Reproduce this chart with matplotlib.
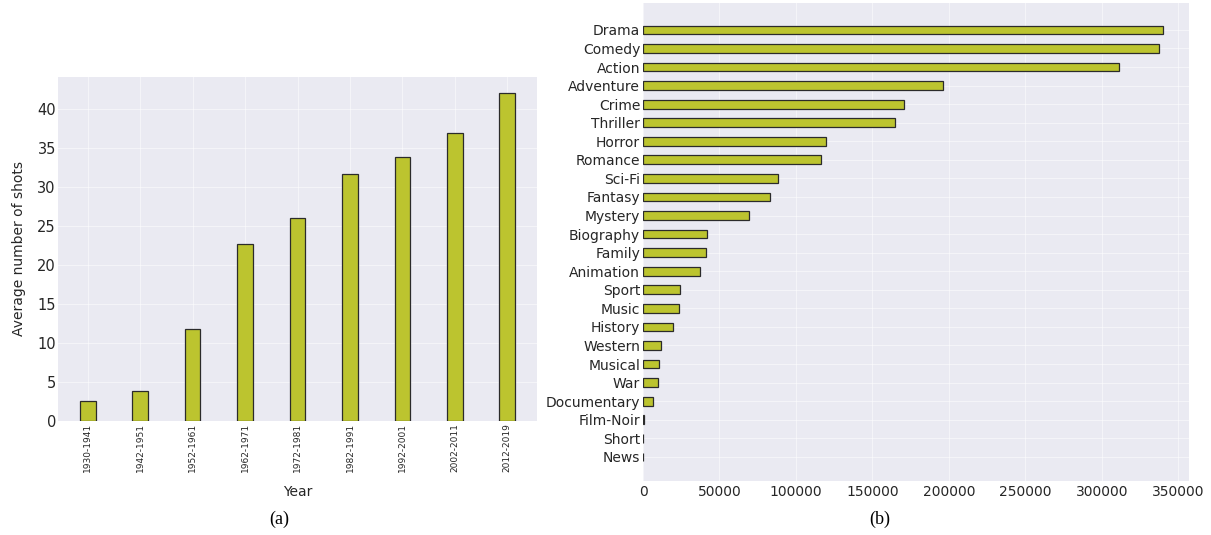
import matplotlib
matplotlib.use("Agg")
import matplotlib.pyplot as plt
import numpy as np

periods = ["1930-1941", "1942-1951", "1952-1961", "1962-1971", "1972-1981",
           "1982-1991", "1992-2001", "2002-2011", "2012-2019"]
avg_shots = [2.6, 3.85, 11.85, 22.7, 26.0, 31.7, 33.9, 36.9, 42.0]

genres = ["Drama", "Comedy", "Action", "Adventure", "Crime", "Thriller", "Horror",
          "Romance", "Sci-Fi", "Fantasy", "Mystery", "Biography", "Family",
          "Animation", "Sport", "Music", "History", "Western", "Musical", "War",
          "Documentary", "Film-Noir", "Short", "News"]
genre_counts = [340000, 337300, 311100, 196400, 170500, 164900, 119800, 116200,
                88000, 83000, 69600, 41800, 41500, 37000, 24500, 23400, 19800,
                12000, 10600, 9500, 6700, 900, 300, 200]

bar_color = "#bcc42f"
edge_color = "#2b2b2b"
bg = "#eaeaf2"
txt = "#262626"

plt.rcParams['font.family'] = ['DejaVu Sans']
fig = plt.figure(figsize=(12.11, 5.35), dpi=100)

# ---- (a) ----
ax1 = fig.add_axes([58/1211, 1-421/535, (537-58)/1211, (421-77)/535])
ax1.set_facecolor(bg)
x = np.arange(len(periods))
ax1.bar(x, avg_shots, width=0.3, color=bar_color, edgecolor=edge_color, linewidth=0.9, zorder=3)
ax1.set_xticks(x)
ax1.set_xticklabels(periods, rotation=90, fontsize=6.5, color=txt)
ax1.set_yticks(np.arange(0, 45, 5))
ax1.tick_params(axis='y', labelsize=10.5, colors=txt, length=0, pad=1.5)
ax1.tick_params(axis='x', length=0, pad=1.5)
ax1.set_ylabel("Average number of shots", fontsize=10, color=txt, labelpad=8)
ax1.set_xlabel("Year", fontsize=10, color=txt, labelpad=9)
ax1.grid(True, color="white", alpha=0.5, linewidth=0.8, zorder=0)
for s in ax1.spines.values():
    s.set_visible(False)

# ---- (b) ----
ax2 = fig.add_axes([643/1211, 1-481/535, (1189-643)/1211, (481-3)/535])
ax2.set_facecolor(bg)
y = np.arange(len(genres))[::-1]
ax2.barh(y, genre_counts, height=0.47, color=bar_color, edgecolor=edge_color, linewidth=0.9, zorder=3)
ax2.set_yticks(y)
ax2.set_yticklabels(genres, fontsize=10, color=txt)
ax2.set_ylim(-1.3, 24.45)
ax2.set_xlim(0, 357000)
ax2.set_xticks(np.arange(0, 350001, 50000))
ax2.set_xticklabels([str(v) for v in range(0, 350001, 50000)], fontsize=10, color=txt)
ax2.tick_params(axis='y', length=0, pad=2)
ax2.tick_params(axis='x', length=0, pad=3)
ax2.grid(True, color="white", alpha=0.5, linewidth=0.8, zorder=0)
for s in ax2.spines.values():
    s.set_visible(False)

fig.text(279/1211, 1-519/535, "(a)", fontsize=13, family="Liberation Serif", ha="center", va="center")
fig.text(880/1211, 1-519/535, "(b)", fontsize=13, family="Liberation Serif", ha="center", va="center")

fig.savefig("out.png", dpi=100, facecolor="white")
